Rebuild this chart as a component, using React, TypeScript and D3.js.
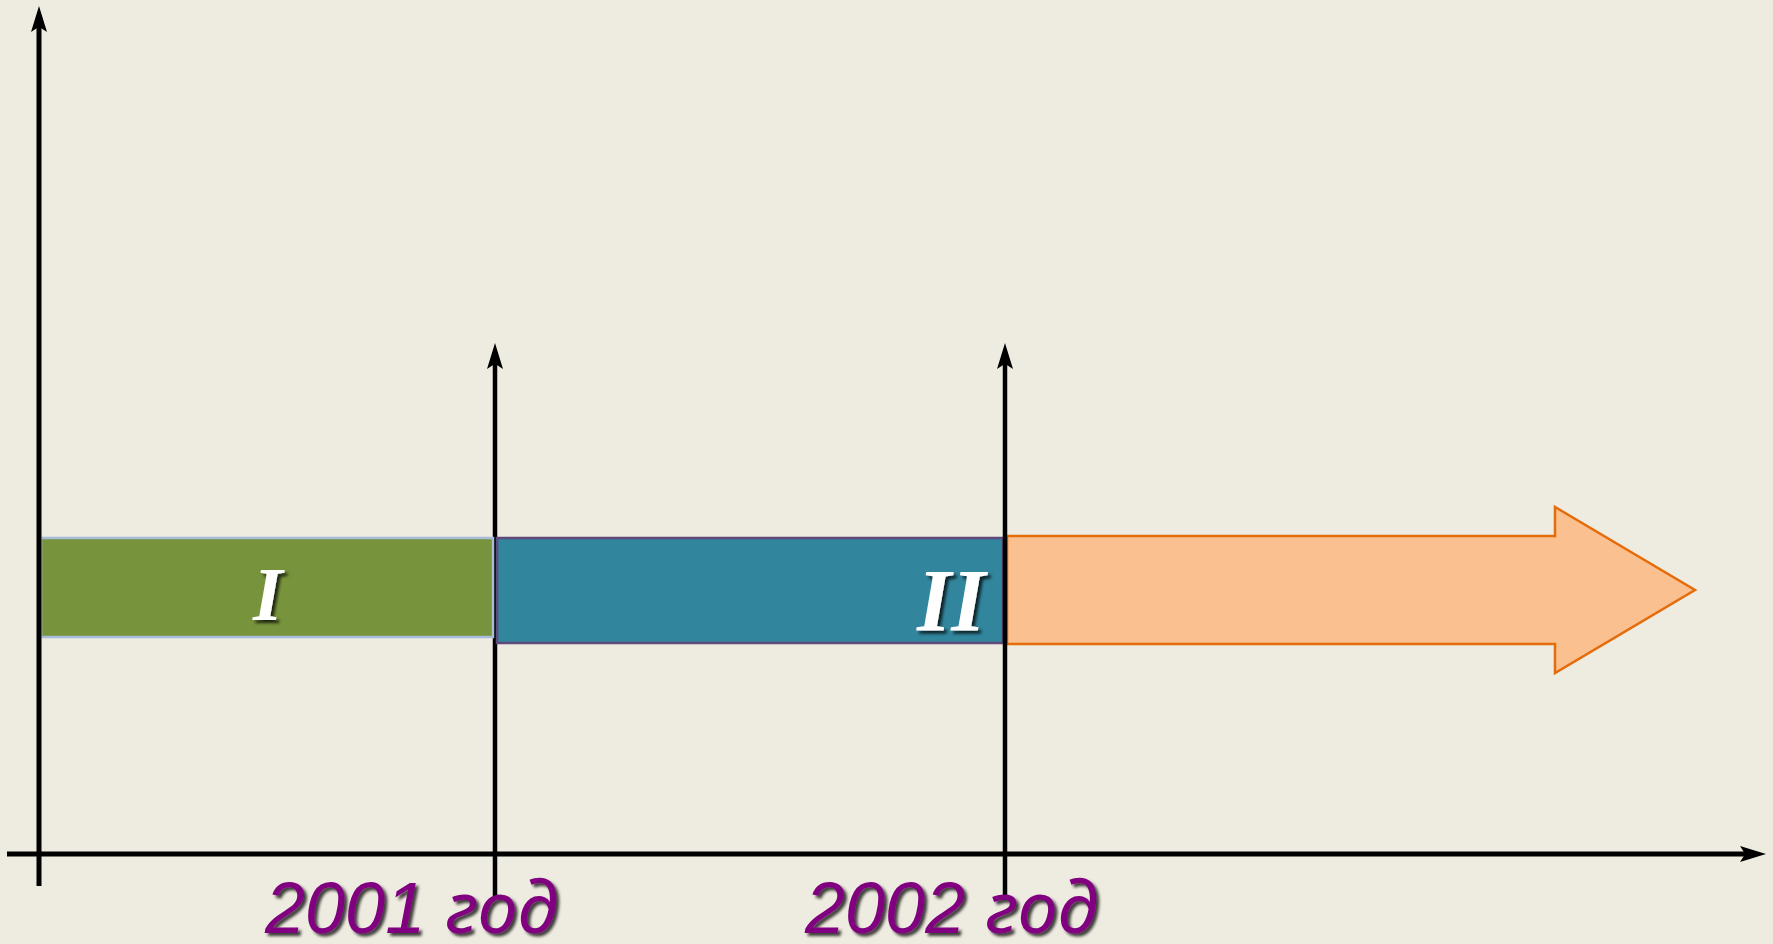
import React, { useEffect, useRef } from 'react';
import * as d3 from 'd3';

// time marks along the horizontal axis
const years = [2001, 2002];
const yearWord = 'год';
// stages drawn as bars between marks
const stages = ['I', 'II'];
const stageStart = [2000, 2001];
const stageEnd = [2001, 2002];
const stageColors = ['#77933c', '#31859c'];
const stageBorders = ['#a6bcd9', '#604a7b'];
// the open-ended stage after the last mark
const futureFrom = 2002;
const futureTo = 2003;

const App: React.FC = () => {
  const ref = useRef<SVGSVGElement | null>(null);

  useEffect(() => {
    const width = 1773;
    const height = 944;
    const svg = d3.select(ref.current);
    svg.selectAll('*').remove();
    svg.attr('width', width).attr('height', height);

    const x = d3.scaleLinear().domain([2000, 2001, 2002, 2003]).range([39, 495, 1005, 1695]);
    const axisY = 854;
    const bandTop = 538;
    const bandBottom = [637, 643];

    const defs = svg.append('defs');
    const shadow = defs.append('filter').attr('id', 'shadow').attr('x', '-20%').attr('y', '-20%').attr('width', '150%').attr('height', '150%');
    shadow.append('feDropShadow').attr('dx', 3).attr('dy', 3).attr('stdDeviation', 1.5).attr('flood-color', '#000').attr('flood-opacity', 0.75);

    svg.append('rect').attr('width', width).attr('height', height).attr('fill', '#eeebe0');

    const arrowHead = (tx: number, ty: number, dir: 'up' | 'right', len: number, half: number) => {
      const notch = len * 0.8;
      const pts = dir === 'up'
        ? [[tx, ty], [tx + half, ty + len], [tx, ty + notch], [tx - half, ty + len]]
        : [[tx, ty], [tx - len, ty + half], [tx - notch, ty], [tx - len, ty - half]];
      svg.append('path').attr('d', d3.line()(pts as [number, number][]) + 'Z').attr('fill', '#000');
    };

    // year lines (under the bars)
    const yearLine = (yr: number) => {
      svg.append('line').attr('x1', x(yr)).attr('x2', x(yr)).attr('y1', 360).attr('y2', 900)
        .attr('stroke', '#000').attr('stroke-width', 4.5);
      arrowHead(x(yr), 343, 'up', 26, 8);
    };
    yearLine(years[0]);

    // stage bars
    stages.forEach((s, i) => {
      svg.append('rect')
        .attr('x', x(stageStart[i]) + 2)
        .attr('y', bandTop)
        .attr('width', x(stageEnd[i]) - x(stageStart[i]) - 4)
        .attr('height', bandBottom[i] - bandTop)
        .attr('fill', stageColors[i])
        .attr('stroke', stageBorders[i])
        .attr('stroke-width', 2.5);
    });

    // future arrow
    const x0 = x(futureFrom) + 2;
    const tip = x(futureTo);
    const headX = 1555;
    const midY = 590;
    const arrowPts: [number, number][] = [
      [x0, 536], [headX, 536], [headX, 507], [tip, midY], [headX, 673], [headX, 644], [x0, 644],
    ];
    svg.append('path').attr('d', d3.line()(arrowPts) + 'Z')
      .attr('fill', '#fac090').attr('stroke', '#e46c0a').attr('stroke-width', 2.5).attr('stroke-linejoin', 'miter');

    yearLine(years[1]);

    // main axes
    svg.append('line').attr('x1', 39).attr('x2', 39).attr('y1', 20).attr('y2', 886)
      .attr('stroke', '#000').attr('stroke-width', 5);
    arrowHead(39, 6, 'up', 26, 8);
    svg.append('line').attr('x1', 7).attr('x2', 1750).attr('y1', axisY).attr('y2', axisY)
      .attr('stroke', '#000').attr('stroke-width', 5);
    arrowHead(1766, axisY, 'right', 26, 8);

    // stage numerals
    const numeralX = [253, 917];
    const numeralY = [620, 630];
    const numeralSize = [76, 88];
    stages.forEach((s, i) => {
      svg.append('text')
        .attr('x', numeralX[i]).attr('y', numeralY[i])
        .attr('font-family', '"Liberation Serif", "DejaVu Serif", serif')
        .attr('font-style', 'italic').attr('font-weight', 'bold')
        .attr('font-size', numeralSize[i])
        .attr('fill', '#fff')
        .attr('filter', 'url(#shadow)')
        .text(s);
    });

    // year labels
    const labelX = [265, 805];
    years.forEach((yr, i) => {
      const t = svg.append('text')
        .attr('x', labelX[i]).attr('y', 933)
        .attr('font-style', 'italic')
        .attr('font-size', 72)
        .attr('fill', '#800080')
        .attr('filter', 'url(#shadow)');
      t.append('tspan').attr('font-family', '"Liberation Sans", Arial, sans-serif').text(`${yr} `);
      t.append('tspan').attr('font-family', '"Noto Sans", "Open Sans", sans-serif').text(yearWord);
    });
  }, []);

  return (
    <div style={{ position: 'absolute', left: 0, top: 0 }}>
      <svg ref={ref} style={{ display: 'block' }} />
    </div>
  );
};

export default App;
